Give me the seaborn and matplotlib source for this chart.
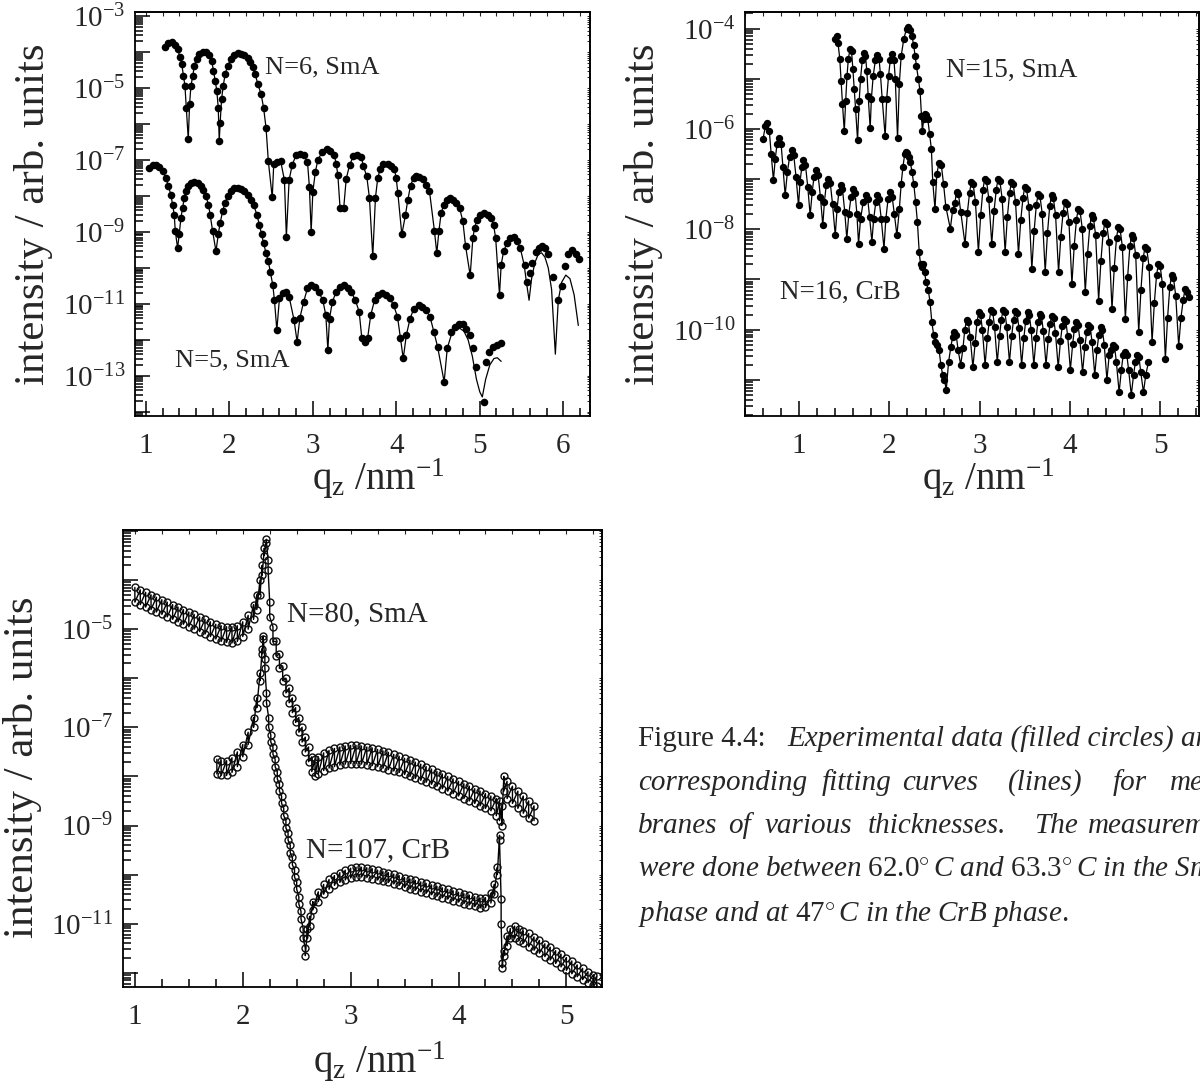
import numpy as np
import matplotlib
matplotlib.use("Agg")
import matplotlib.pyplot as plt
from matplotlib.ticker import FixedLocator, LogLocator, FuncFormatter, MultipleLocator, NullFormatter
import seaborn as sns

sns.set_theme(style="ticks")
plt.rcParams["font.family"] = ["Liberation Serif", "DejaVu Serif"]
plt.rcParams["mathtext.fontset"] = "custom"
plt.rcParams["mathtext.rm"] = "Liberation Serif"
plt.rcParams["mathtext.it"] = "Liberation Serif:italic"
plt.rcParams["mathtext.bf"] = "Liberation Serif:bold"

# ---- panel 1: (q_z, log10 intensity) ----
n6_points = [
    (1.232, -3.86), (1.268, -3.75), (1.308, -3.72), (1.348, -3.79), (1.38, -3.91), (1.41, -4.14),
    (1.43, -4.33), (1.45, -4.65), (1.468, -4.93), (1.484, -5.54), (1.508, -6.42), (1.524, -5.44),
    (1.54, -4.93), (1.563, -4.65), (1.58, -4.37), (1.607, -4.19), (1.64, -4.05), (1.68, -3.98),
    (1.72, -4.0), (1.76, -4.09), (1.787, -4.23), (1.81, -4.51), (1.83, -4.79), (1.85, -5.07),
    (1.867, -5.54), (1.879, -6.47), (1.89, -5.96), (1.907, -5.30), (1.927, -4.93), (1.95, -4.61),
    (1.98, -4.37), (2.02, -4.19), (2.06, -4.07), (2.10, -4.03), (2.14, -4.05), (2.18, -4.09),
    (2.22, -4.17), (2.25, -4.28), (2.28, -4.42), (2.31, -4.61), (2.34, -4.88), (2.38, -5.16),
    (2.41, -5.54), (2.44, -6.11), (2.467, -7.03), (2.514, -8.04), (2.532, -7.10), (2.569, -7.05),
    (2.615, -7.03), (2.66, -7.56), (2.683, -9.14), (2.716, -7.56), (2.752, -7.14), (2.798, -6.87),
    (2.844, -6.82), (2.89, -6.87), (2.936, -7.05), (2.959, -7.75), (2.98, -9.00), (3.00, -7.89),
    (3.03, -7.33), (3.06, -7.00), (3.11, -6.78), (3.165, -6.70), (3.21, -6.76), (3.257, -6.87),
    (3.28, -7.10), (3.30, -7.42), (3.326, -8.33), (3.37, -8.33), (3.40, -7.52), (3.44, -7.14),
    (3.486, -6.89), (3.53, -6.85), (3.58, -6.91), (3.606, -7.17), (3.646, -7.45), (3.678, -8.05),
    (3.718, -9.68), (3.75, -8.05), (3.778, -7.49), (3.806, -7.26), (3.846, -7.12), (3.898, -7.10),
    (3.938, -7.17), (3.978, -7.26), (3.998, -7.49), (4.018, -7.91), (4.066, -9.07), (4.11, -8.52),
    (4.138, -8.10), (4.17, -7.72), (4.206, -7.49), (4.238, -7.45), (4.277, -7.47), (4.317, -7.54),
    (4.357, -7.68), (4.397, -7.86), (4.457, -8.98), (4.485, -9.59), (4.51, -8.98), (4.537, -8.47),
    (4.57, -8.24), (4.605, -8.10), (4.645, -8.05), (4.685, -8.10), (4.717, -8.19), (4.757, -8.33),
    (4.797, -8.70), (4.83, -9.40), (4.885, -10.21), (4.917, -9.17), (4.937, -8.89), (4.965, -8.66),
    (5.005, -8.52), (5.045, -8.47), (5.097, -8.53), (5.137, -8.61), (5.165, -8.80), (5.19, -9.17),
    (5.236, -10.75), (5.256, -9.91), (5.285, -9.54), (5.325, -9.31), (5.365, -9.17), (5.405, -9.14),
    (5.445, -9.26), (5.485, -9.45), (5.536, -9.91), (5.565, -10.40), (5.60, -10.15), (5.63, -9.85),
    (5.676, -9.55), (5.708, -9.45), (5.74, -9.40), (5.776, -9.45), (5.816, -9.60), (5.876, -10.25),
    (5.94, -10.90), (5.99, -10.50), (6.02, -9.95), (6.055, -9.60), (6.10, -9.50), (6.147, -9.60),
    (6.19, -9.75),
]
n6_fit_tail = [
    (5.445, -9.26), (5.49, -9.50), (5.53, -9.90), (5.565, -10.5), (5.59, -10.9), (5.62, -10.3),
    (5.66, -9.85), (5.70, -9.62), (5.74, -9.58), (5.78, -9.70), (5.82, -10.0), (5.86, -10.6),
    (5.905, -12.4), (5.94, -10.9), (5.98, -10.4), (6.03, -10.2), (6.08, -10.3), (6.13, -10.75),
    (6.18, -11.6),
]
n5_points = [
    (1.04, -7.21), (1.08, -7.15), (1.12, -7.14), (1.16, -7.19), (1.20, -7.31), (1.24, -7.49),
    (1.268, -7.72), (1.30, -7.96), (1.32, -8.24), (1.34, -8.52), (1.352, -8.96), (1.38, -9.45),
    (1.40, -9.06), (1.42, -8.61), (1.44, -8.33), (1.46, -8.05), (1.48, -7.86), (1.508, -7.72),
    (1.54, -7.63), (1.58, -7.60), (1.62, -7.63), (1.66, -7.72), (1.69, -7.82), (1.72, -8.00),
    (1.75, -8.24), (1.77, -8.52), (1.80, -8.98), (1.84, -9.54), (1.867, -9.07), (1.89, -8.75),
    (1.92, -8.42), (1.947, -8.19), (1.98, -8.00), (2.02, -7.85), (2.06, -7.79), (2.10, -7.77),
    (2.14, -7.80), (2.18, -7.86), (2.22, -7.96), (2.26, -8.10), (2.29, -8.24), (2.33, -8.52),
    (2.36, -8.80), (2.387, -9.07), (2.41, -9.31), (2.44, -9.59), (2.467, -9.82), (2.49, -10.10),
    (2.52, -10.47), (2.54, -10.89), (2.569, -11.73), (2.60, -10.85), (2.638, -10.71), (2.683, -10.67),
    (2.716, -10.80), (2.775, -11.45), (2.812, -12.06), (2.844, -11.40), (2.89, -10.94), (2.936, -10.57),
    (2.98, -10.48), (3.03, -10.53), (3.07, -10.67), (3.12, -10.90), (3.156, -11.32), (3.18, -12.29),
    (3.20, -11.41), (3.234, -10.94), (3.28, -10.67), (3.326, -10.53), (3.37, -10.48), (3.417, -10.56),
    (3.46, -10.67), (3.51, -10.90), (3.555, -11.22), (3.587, -11.96), (3.624, -12.06), (3.656, -11.96),
    (3.693, -11.32), (3.739, -10.90), (3.784, -10.76), (3.83, -10.71), (3.876, -10.74), (3.922, -10.85),
    (3.968, -11.04), (4.014, -11.36), (4.05, -11.96), (4.083, -12.52), (4.12, -11.87), (4.165, -11.41),
    (4.21, -11.13), (4.266, -11.04), (4.312, -11.08), (4.358, -11.18), (4.404, -11.36), (4.45, -11.78),
    (4.495, -12.20), (4.573, -13.17), (4.61, -12.24), (4.656, -11.78), (4.70, -11.64), (4.748, -11.55),
    (4.794, -11.57), (4.84, -11.69), (4.885, -11.87), (4.917, -12.24), (4.954, -12.75), (5.046, -13.72),
    (5.07, -12.61), (5.115, -12.34), (5.16, -12.20), (5.206, -12.15), (5.25, -12.10),
]
n5_fit_tail = [
    (4.61, -12.24), (4.66, -11.85), (4.71, -11.72), (4.76, -11.68), (4.81, -11.76), (4.86, -12.0),
    (4.91, -12.45), (4.96, -13.1), (5.0, -13.45), (5.03, -13.59), (5.07, -13.1), (5.12, -12.7),
    (5.17, -12.52), (5.21, -12.5), (5.256, -12.6),
]

# ---- panel 2 ----
n15_points = [
    (1.40, -4.20), (1.415, -4.15), (1.43, -4.28), (1.45, -4.60), (1.465, -5.05), (1.48, -5.50),
    (1.50, -6.05), (1.515, -5.45), (1.53, -4.95), (1.545, -4.60), (1.565, -4.40), (1.58, -4.45),
    (1.595, -4.80), (1.61, -5.20), (1.625, -5.60), (1.647, -6.22), (1.665, -5.45), (1.68, -5.00),
    (1.70, -4.62), (1.72, -4.48), (1.735, -4.55), (1.75, -4.85), (1.765, -5.35), (1.787, -5.99),
    (1.80, -5.40), (1.82, -4.95), (1.845, -4.62), (1.868, -4.52), (1.885, -4.60), (1.90, -4.90),
    (1.92, -5.40), (1.953, -6.15), (1.97, -5.40), (1.99, -4.95), (2.01, -4.62), (2.03, -4.50),
    (2.05, -4.62), (2.065, -5.00), (2.09, -6.19), (2.11, -5.10), (2.13, -4.55), (2.16, -4.20),
    (2.19, -4.00), (2.21, -3.97), (2.23, -4.02), (2.25, -4.15), (2.268, -4.32), (2.285, -4.55),
    (2.30, -4.75), (2.32, -5.00), (2.34, -5.25), (2.355, -5.75), (2.365, -6.05), (2.38, -5.80),
    (2.395, -5.70), (2.41, -5.72), (2.425, -5.80), (2.445, -6.10), (2.465, -6.40), (2.48, -7.05),
    (2.505, -7.60), (2.525, -6.90), (2.55, -6.67), (2.575, -6.72), (2.60, -7.10), (2.625, -7.55),
    (2.675, -7.99), (2.70, -7.62), (2.725, -7.47), (2.745, -7.25), (2.765, -7.30), (2.79, -7.65),
    (2.838, -8.30), (2.863, -7.68), (2.888, -7.27), (2.908, -7.05), (2.928, -7.10), (2.953, -7.45),
    (2.986, -8.45), (3.011, -7.72), (3.036, -7.21), (3.056, -6.99), (3.076, -7.04), (3.101, -7.39),
    (3.134, -8.29), (3.159, -7.64), (3.184, -7.21), (3.204, -6.99), (3.224, -7.04), (3.249, -7.39),
    (3.282, -8.45), (3.307, -7.75), (3.332, -7.27), (3.352, -7.05), (3.372, -7.10), (3.397, -7.45),
    (3.43, -8.49), (3.455, -7.82), (3.48, -7.37), (3.50, -7.15), (3.52, -7.20), (3.545, -7.55),
    (3.578, -8.79), (3.603, -8.04), (3.628, -7.51), (3.648, -7.29), (3.668, -7.34), (3.693, -7.69),
    (3.726, -8.85), (3.751, -8.08), (3.776, -7.54), (3.796, -7.32), (3.816, -7.37), (3.841, -7.72),
    (3.874, -8.85), (3.899, -8.15), (3.924, -7.67), (3.944, -7.45), (3.964, -7.50), (3.989, -7.85),
    (4.022, -9.09), (4.047, -8.34), (4.072, -7.81), (4.092, -7.59), (4.112, -7.64), (4.137, -7.99),
    (4.17, -9.25), (4.195, -8.49), (4.22, -7.94), (4.24, -7.72), (4.26, -7.77), (4.285, -8.12),
    (4.318, -9.42), (4.343, -8.64), (4.368, -8.07), (4.388, -7.85), (4.408, -7.90), (4.433, -8.25),
    (4.466, -9.59), (4.491, -8.77), (4.516, -8.17), (4.536, -7.95), (4.556, -8.00), (4.581, -8.35),
    (4.614, -9.79), (4.639, -8.96), (4.664, -8.34), (4.684, -8.12), (4.704, -8.17), (4.729, -8.52),
    (4.762, -10.05), (4.787, -9.20), (4.812, -8.57), (4.832, -8.35), (4.852, -8.40), (4.877, -8.75),
    (4.91, -10.25), (4.935, -9.47), (4.96, -8.91), (4.98, -8.69), (5.00, -8.74), (5.025, -9.09),
    (5.057, -10.59), (5.082, -9.76), (5.107, -9.14), (5.127, -8.92), (5.147, -8.97), (5.172, -9.32),
    (5.205, -10.32), (5.23, -9.76), (5.255, -9.41), (5.275, -9.19), (5.295, -9.24), (5.32, -9.35),
]
n16_points = [
    (0.60, -6.20), (0.625, -5.95), (0.649, -5.89), (0.67, -6.05), (0.69, -6.50), (0.715, -7.02),
    (0.735, -6.60), (0.755, -6.30), (0.782, -6.19), (0.80, -6.30), (0.82, -6.75), (0.845, -7.32),
    (0.87, -6.85), (0.895, -6.55), (0.919, -6.42), (0.94, -6.52), (0.965, -6.95), (0.993, -7.52),
    (1.01, -7.05), (1.03, -6.75), (1.048, -6.62), (1.07, -6.72), (1.095, -7.15), (1.122, -7.72),
    (1.145, -7.25), (1.165, -6.95), (1.188, -6.82), (1.21, -6.92), (1.235, -7.35), (1.262, -7.92),
    (1.28, -7.45), (1.30, -7.12), (1.325, -6.99), (1.345, -7.08), (1.37, -7.50), (1.40, -8.12),
    (1.42, -7.60), (1.44, -7.25), (1.46, -7.12), (1.48, -7.20), (1.505, -7.65), (1.528, -8.19),
    (1.55, -7.70), (1.575, -7.35), (1.60, -7.19), (1.62, -7.28), (1.64, -7.70), (1.658, -8.29),
    (1.68, -7.80), (1.71, -7.45), (1.743, -7.32), (1.76, -7.40), (1.78, -7.75), (1.806, -8.25),
    (1.825, -7.80), (1.85, -7.45), (1.868, -7.32), (1.885, -7.40), (1.91, -7.80), (1.94, -8.39),
    (1.96, -7.80), (1.985, -7.40), (2.01, -7.25), (2.03, -7.35), (2.055, -7.70), (2.083, -8.12),
    (2.11, -7.60), (2.13, -7.10), (2.15, -6.75), (2.17, -6.50), (2.183, -6.45), (2.20, -6.47),
    (2.215, -6.55), (2.23, -6.65), (2.25, -6.85), (2.27, -7.10), (2.29, -7.45), (2.31, -7.85),
    (2.33, -8.45), (2.345, -8.70), (2.36, -8.75), (2.375, -8.70), (2.39, -8.85), (2.405, -9.05),
    (2.43, -9.20), (2.45, -9.45), (2.47, -9.85), (2.49, -10.10), (2.51, -10.25), (2.53, -10.30),
    (2.55, -10.40), (2.57, -10.70), (2.59, -10.90), (2.61, -11.00), (2.63, -11.20), (2.655, -10.65),
    (2.68, -10.35), (2.70, -10.15), (2.72, -10.05),
    (2.74, -10.10), (2.76, -10.40), (2.79, -10.70), (2.815, -10.37), (2.835, -10.00),
    (2.855, -9.80), (2.875, -9.85), (2.895, -10.15), (2.925, -10.75), (2.95, -10.27), (2.97, -9.85),
    (2.99, -9.65), (3.01, -9.70), (3.03, -10.00), (3.06, -10.70), (3.085, -10.17), (3.105, -9.85),
    (3.125, -9.60), (3.145, -9.65), (3.165, -9.95), (3.195, -10.65), (3.22, -10.12), (3.24, -9.80),
    (3.26, -9.60), (3.28, -9.65), (3.30, -9.95), (3.33, -10.65), (3.355, -10.12), (3.375, -9.80),
    (3.395, -9.62), (3.415, -9.67), (3.435, -9.97), (3.465, -10.70), (3.49, -10.16), (3.51, -9.82),
    (3.53, -9.65), (3.55, -9.70), (3.57, -10.00), (3.60, -10.70), (3.625, -10.17), (3.645, -9.85),
    (3.665, -9.68), (3.685, -9.73), (3.705, -10.03), (3.735, -10.70), (3.76, -10.19), (3.78, -9.88),
    (3.80, -9.72), (3.82, -9.77), (3.84, -10.07), (3.87, -10.75), (3.895, -10.23), (3.915, -9.92),
    (3.935, -9.78), (3.955, -9.83), (3.975, -10.13), (4.005, -10.80), (4.03, -10.29), (4.05, -9.98),
    (4.07, -9.85), (4.09, -9.90), (4.11, -10.20), (4.14, -10.85), (4.165, -10.35), (4.185, -10.05),
    (4.205, -9.90), (4.225, -9.95), (4.245, -10.25), (4.275, -10.90), (4.30, -10.40), (4.32, -10.10),
    (4.34, -9.95), (4.36, -10.00), (4.38, -10.30), (4.41, -11.00), (4.435, -10.50), (4.455, -10.40),
    (4.475, -10.30), (4.495, -10.35), (4.515, -10.65), (4.545, -11.25), (4.57, -10.80), (4.59, -10.50),
    (4.61, -10.45), (4.63, -10.50), (4.65, -10.80), (4.68, -11.30), (4.705, -10.90), (4.725, -10.65),
    (4.745, -10.50), (4.765, -10.55), (4.785, -10.85), (4.815, -11.25), (4.84, -10.90), (4.87, -10.65),
]

# ---- panel 3: (q_z, upper edge, lower edge) of the fast-oscillating band ----
n80_nodes = [
    (1.00, -4.15, -4.45), (1.05, -4.20, -4.50), (1.10, -4.25, -4.55), (1.15, -4.30, -4.60),
    (1.20, -4.35, -4.65), (1.25, -4.40, -4.70), (1.30, -4.45, -4.75), (1.35, -4.50, -4.80),
    (1.40, -4.55, -4.85), (1.45, -4.60, -4.90), (1.50, -4.65, -4.95), (1.55, -4.70, -5.00),
    (1.60, -4.75, -5.05), (1.65, -4.80, -5.10), (1.70, -4.85, -5.15), (1.75, -4.90, -5.20),
    (1.80, -4.93, -5.25), (1.85, -4.95, -5.27), (1.90, -4.95, -5.28), (1.95, -4.93, -5.25),
    (2.00, -4.85, -5.15), (2.05, -4.72, -5.00), (2.10, -4.50, -4.80), (2.13, -4.30, -4.60),
    (2.16, -4.00, -4.30), (2.18, -3.70, -3.90), (2.20, -3.35, -3.50), (2.22, -3.17, -3.25),
    (2.235, -3.60, -3.80), (2.25, -4.45, -4.75), (2.28, -4.95, -5.25), (2.31, -5.25, -5.55),
    (2.34, -5.50, -5.80), (2.37, -5.75, -6.05), (2.40, -6.00, -6.30), (2.43, -6.20, -6.50),
    (2.46, -6.40, -6.70), (2.49, -6.60, -6.90), (2.52, -6.80, -7.10), (2.55, -7.00, -7.30),
    (2.58, -7.20, -7.50), (2.61, -7.40, -7.70), (2.64, -7.60, -7.90), (2.67, -7.65, -8.00),
    (2.70, -7.60, -7.95), (2.75, -7.52, -7.88), (2.80, -7.47, -7.83), (2.85, -7.43, -7.80),
    (2.90, -7.40, -7.77), (2.95, -7.38, -7.75), (3.00, -7.37, -7.74), (3.05, -7.37, -7.74),
    (3.10, -7.38, -7.75), (3.15, -7.40, -7.76), (3.20, -7.42, -7.78), (3.25, -7.45, -7.80),
    (3.30, -7.48, -7.83), (3.35, -7.51, -7.86), (3.40, -7.55, -7.89), (3.45, -7.59, -7.92),
    (3.50, -7.63, -7.96), (3.55, -7.67, -8.00), (3.60, -7.71, -8.04), (3.65, -7.75, -8.08),
    (3.70, -7.80, -8.12), (3.75, -7.85, -8.16), (3.80, -7.90, -8.20), (3.85, -7.95, -8.25),
    (3.90, -8.00, -8.30), (3.95, -8.05, -8.35), (4.00, -8.10, -8.40), (4.05, -8.15, -8.45),
    (4.10, -8.20, -8.50), (4.15, -8.25, -8.55), (4.20, -8.30, -8.60), (4.25, -8.35, -8.65),
    (4.30, -8.40, -8.70), (4.35, -8.45, -8.80), (4.38, -8.50, -8.90), (4.40, -8.60, -9.00),
    (4.42, -8.00, -8.30), (4.45, -8.10, -8.45), (4.50, -8.20, -8.55), (4.55, -8.30, -8.65),
    (4.60, -8.40, -8.75), (4.65, -8.50, -8.85), (4.70, -8.60, -8.90),
]
n107_nodes = [
    (1.76, -7.65, -7.95), (1.80, -7.68, -7.98), (1.85, -7.68, -7.98), (1.90, -7.62, -7.92),
    (1.95, -7.50, -7.80), (2.00, -7.35, -7.60), (2.05, -7.10, -7.35), (2.10, -6.80, -7.00),
    (2.13, -6.40, -6.60), (2.16, -5.90, -6.05), (2.18, -5.40, -5.50), (2.19, -5.14, -5.20),
    (2.205, -5.60, -5.80), (2.22, -6.30, -6.50), (2.24, -6.80, -7.00), (2.26, -7.15, -7.30),
    (2.28, -7.40, -7.55), (2.30, -7.65, -7.80), (2.32, -7.90, -8.05), (2.34, -8.15, -8.30),
    (2.36, -8.40, -8.55), (2.38, -8.65, -8.80), (2.40, -8.90, -9.05), (2.42, -9.15, -9.30),
    (2.44, -9.40, -9.55), (2.46, -9.65, -9.80), (2.48, -9.90, -10.05), (2.50, -10.15, -10.30),
    (2.52, -10.45, -10.60), (2.54, -10.75, -10.90), (2.56, -11.10, -11.30), (2.58, -11.50, -11.65),
    (2.60, -11.10, -11.30), (2.62, -10.85, -11.05), (2.65, -10.55, -10.72), (2.70, -10.35, -10.55),
    (2.75, -10.20, -10.40), (2.80, -10.10, -10.30), (2.85, -10.02, -10.22), (2.90, -9.96, -10.16),
    (2.95, -9.91, -10.11), (3.00, -9.87, -10.07), (3.05, -9.85, -10.05), (3.10, -9.85, -10.05),
    (3.15, -9.86, -10.06), (3.20, -9.88, -10.08), (3.25, -9.91, -10.11), (3.30, -9.94, -10.14),
    (3.35, -9.96, -10.16), (3.40, -9.99, -10.19), (3.45, -10.02, -10.22), (3.50, -10.06, -10.26),
    (3.55, -10.09, -10.29), (3.60, -10.12, -10.32), (3.65, -10.15, -10.35), (3.70, -10.18, -10.38),
    (3.75, -10.21, -10.41), (3.80, -10.24, -10.44), (3.85, -10.27, -10.47), (3.90, -10.30, -10.50),
    (3.95, -10.33, -10.53), (4.00, -10.36, -10.56), (4.05, -10.39, -10.59), (4.10, -10.42, -10.62),
    (4.15, -10.45, -10.65), (4.20, -10.48, -10.68), (4.25, -10.47, -10.67), (4.30, -10.38, -10.58),
    (4.33, -10.20, -10.40), (4.36, -9.85, -10.00), (4.38, -9.20, -9.30), (4.395, -10.50, -11.00),
    (4.405, -11.80, -11.90), (4.42, -11.55, -11.65), (4.45, -11.25, -11.45), (4.48, -11.10, -11.30),
    (4.52, -11.05, -11.30), (4.56, -11.10, -11.35), (4.60, -11.15, -11.40), (4.65, -11.20, -11.47),
    (4.70, -11.27, -11.54), (4.75, -11.34, -11.60), (4.80, -11.41, -11.67), (4.85, -11.48, -11.74),
    (4.90, -11.55, -11.81), (4.95, -11.62, -11.88), (5.00, -11.69, -11.95), (5.05, -11.76, -12.02),
    (5.10, -11.84, -12.08), (5.15, -11.91, -12.14), (5.20, -11.98, -12.20), (5.25, -12.04, -12.24),
    (5.28, -12.07, -12.26),
]

caption_line1 = ("Figure 4.4:", "Experimental data (filled circles) and")
caption_line2 = ["corresponding", "fitting", "curves", "(lines)", "for", "mem-"]
caption_line3 = ["branes", "of", "various", "thicknesses.", "The", "measurements"]
caption_line4 = r"$\mathit{were\ done\ between}\ 62.0^{\circ}\,\mathit{C}\ \mathit{and}\ 63.3^{\circ}\,\mathit{C}\ \mathit{in\ the\ SmA}$"
caption_line5 = r"$\mathit{phase\ and\ at}\ 47^{\circ}\,\mathit{C}\ \mathit{in\ the\ CrB\ phase.}$"

W, H = 1200, 1088


def unzip(points):
    q = np.array([p[0] for p in points])
    return q, 10.0 ** np.array([p[1] for p in points])


def zigzag(nodes):
    q, v = [], []
    for qq, up, lo in nodes:
        q += [qq, qq]
        v += [up, lo]
    return np.array(q), 10.0 ** np.array(v)


def style_axes(ax, xlim, ylog, label_exps, xminor, xlabel_y):
    ax.set_yscale("log")
    ax.set_xlim(*xlim)
    ax.set_ylim(10.0 ** ylog[0], 10.0 ** ylog[1])
    majors = [10.0 ** e for e in range(-16, 0)]
    fmt = FuncFormatter(lambda v, p: rf"$10^{{{int(round(np.log10(v)))}}}$"
                        if int(round(np.log10(v))) in label_exps else "")
    ax.yaxis.set_major_locator(FixedLocator(majors))
    ax.yaxis.set_major_formatter(fmt)
    ax.yaxis.set_minor_locator(LogLocator(base=10, subs=np.arange(2, 10), numticks=200))
    ax.yaxis.set_minor_formatter(NullFormatter())
    ax.xaxis.set_major_locator(MultipleLocator(1))
    ax.xaxis.set_minor_locator(MultipleLocator(xminor))
    ax.tick_params(which="both", direction="in", color="black", width=1.1,
                   top=False, right=False)
    ax.tick_params(which="major", length=11, labelsize=21, pad=7)
    ax.tick_params(axis="x", which="major", pad=12)
    ax.tick_params(which="minor", length=6)
    for s in ax.spines.values():
        s.set_linewidth(1.3)
        s.set_color("black")
    ax.grid(False)
    # small ticks on the top and right frame
    top = ax.secondary_xaxis("top")
    top.xaxis.set_major_locator(MultipleLocator(1))
    top.xaxis.set_minor_locator(MultipleLocator(xminor))
    top.tick_params(which="both", direction="in", length=3, width=0.8, labeltop=False)
    right = ax.secondary_yaxis("right")
    right.yaxis.set_major_locator(FixedLocator(majors))
    right.yaxis.set_minor_locator(LogLocator(base=10, subs=np.arange(2, 10), numticks=200))
    right.tick_params(which="both", direction="in", length=2.5, width=0.7, labelright=False)
    ax.set_xlabel(r"q$_\mathrm{z}$ /nm$^{-1}$", fontsize=28)
    ax.xaxis.set_label_coords(0.535, xlabel_y)


fig = plt.figure(figsize=(W / 100, H / 100), dpi=100)
fig.patch.set_facecolor("white")
ax1 = fig.add_axes([135 / W, 1 - 416 / H, 455 / W, 404 / H])
ax2 = fig.add_axes([745 / W, 1 - 416 / H, 454 / W, 404 / H])
ax3 = fig.add_axes([123 / W, 1 - 987 / H, 479 / W, 457 / H])

# panel 1
for pts, tail in [(n6_points, n6_fit_tail), (n5_points, n5_fit_tail)]:
    q, y = unzip(pts)
    cut = tail[0][0]
    main = [p for p in pts if p[0] <= cut]
    lq, ly = unzip(main[:-1] + tail)
    sns.lineplot(x=lq, y=ly, ax=ax1, color="black", lw=0.9, sort=False, estimator=None)
    sns.scatterplot(x=q, y=y, ax=ax1, color="black", s=30, linewidth=0, zorder=3, legend=False)
style_axes(ax1, (0.87, 6.32), (-14.12, -2.88), [-3, -5, -7, -9, -11, -13], 0.2, -0.10)
ax1.text(2.43, 10 ** -4.41, "N=6, SmA", fontsize=19, va="center")
ax1.text(1.35, 10 ** -12.57, "N=5, SmA", fontsize=19, va="center")

# panel 2
for pts in (n15_points, n16_points):
    q, y = unzip(pts)
    sns.lineplot(x=q, y=y, ax=ax2, color="black", lw=0.9, sort=False, estimator=None)
    sns.scatterplot(x=q, y=y, ax=ax2, color="black", s=28, linewidth=0, zorder=3, legend=False)
style_axes(ax2, (0.40, 5.43), (-11.72, -3.67), [-4, -6, -8, -10], 0.2, -0.10)
ax2.text(2.63, 10 ** -4.84, "N=15, SmA", fontsize=19.5, va="center")
ax2.text(0.79, 10 ** -9.25, "N=16, CrB", fontsize=19.5, va="center")

# panel 3
for nodes in (n80_nodes, n107_nodes):
    q, y = zigzag(nodes)
    sns.lineplot(x=q, y=y, ax=ax3, color="black", lw=1.0, sort=False, estimator=None,
                 marker="o", markersize=5, markerfacecolor="none",
                 markeredgecolor="0.05", markeredgewidth=1.0)
style_axes(ax3, (0.89, 5.33), (-12.29, -2.98), [-5, -7, -9, -11], 0.25, -0.115)
ax3.text(2.41, 10 ** -4.70, "N=80, SmA", fontsize=21, va="center")
ax3.text(2.59, 10 ** -9.50, "N=107, CrB", fontsize=21, va="center")

for ax, xl, yl in [(ax1, -0.18, 0.5), (ax2, -0.18, 0.5), (ax3, -0.17, 0.48)]:
    ax.set_ylabel("intensity / arb. units", fontsize=31)
    ax.yaxis.set_label_coords(xl, yl)

# caption
cy = [739, 783, 826, 869, 914]
fs = 21
fig.text(638 / W, 1 - cy[0] / H, caption_line1[0], fontsize=fs, va="center")
fig.text(787 / W, 1 - cy[0] / H, caption_line1[1], fontsize=fs, va="center", style="italic")
for word, x in zip(caption_line2, [638, 822, 902, 1008, 1113, 1170]):
    fig.text(x / W, 1 - cy[1] / H, word, fontsize=fs, va="center", style="italic")
for word, x in zip(caption_line3, [638, 728, 765, 868, 1034, 1088]):
    fig.text(x / W, 1 - cy[2] / H, word, fontsize=fs, va="center", style="italic")
fig.text(638 / W, 1 - cy[3] / H, caption_line4, fontsize=fs, va="center")
fig.text(638 / W, 1 - cy[4] / H, caption_line5, fontsize=fs, va="center")

fig.savefig("out.png", dpi=100)
